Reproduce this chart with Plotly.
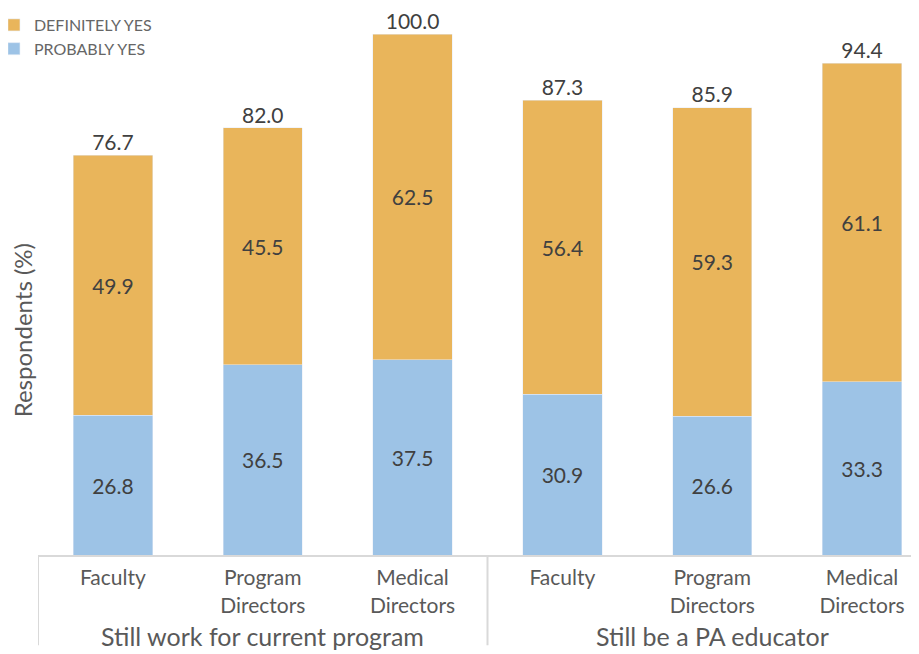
import plotly.graph_objects as go

group_names = ["Still work for current program", "Still be a PA educator"]
groups = [group_names[0]] * 3 + [group_names[1]] * 3
roles = ["Faculty", "Program<br>Directors", "Medical<br>Directors"] * 2
probably_yes = [26.8, 36.5, 37.5, 30.9, 26.6, 33.3]
definitely_yes = [49.9, 45.5, 62.5, 56.4, 59.3, 61.1]
totals = [76.7, 82.0, 100.0, 87.3, 85.9, 94.4]

FONT = "Lato"
TXT = "#404040"
AX = "#595959"
LINE = "#d9d9d9"
keys = [f"{g} | {r}" for g, r in zip(groups, roles)]

fig = go.Figure()
fig.add_trace(go.Bar(
    x=keys, y=probably_yes, name="PROBABLY YES", marker_color="#9DC3E6",
    width=0.53, texttemplate="%{y:.1f}",
    textposition="inside", insidetextanchor="middle", constraintext="none",
    textfont=dict(family=FONT, size=21, color=TXT),
))
fig.add_trace(go.Bar(
    x=keys, y=definitely_yes, name="DEFINITELY YES", marker_color="#E9B55B",
    width=0.53, texttemplate="%{y:.1f}",
    textposition="inside", insidetextanchor="middle", constraintext="none",
    textfont=dict(family=FONT, size=21, color=TXT),
))
fig.add_trace(go.Scatter(
    x=keys, y=totals, mode="text", text=[f"{t:.1f}" for t in totals],
    textposition="top center", showlegend=False, hoverinfo="skip",
    textfont=dict(family=FONT, size=21, color=TXT),
))

# group labels and dividers of the two-level category axis
for gi, g in enumerate(group_names):
    members = [i for i, gg in enumerate(groups) if gg == g]
    fig.add_annotation(
        text=g, xref="x", yref="paper", x=sum(members) / len(members),
        y=-0.148, xanchor="center", yanchor="middle", showarrow=False,
        font=dict(family=FONT, size=25, color=AX),
    )
    fig.add_shape(
        type="line", xref="x", yref="paper", x0=members[0] - 0.5,
        x1=members[0] - 0.5, y0=0, y1=-0.165,
        line=dict(color=LINE, width=2),
    )
fig.add_shape(
    type="line", xref="x", yref="paper", x0=len(keys) - 0.5,
    x1=len(keys) - 0.5, y0=0, y1=-0.165, line=dict(color=LINE, width=2),
)

fig.add_annotation(
    text="Respondents (%)", textangle=-90, xref="paper", yref="paper",
    x=-0.018, y=0.411, xanchor="center", yanchor="middle", showarrow=False,
    font=dict(family=FONT, size=24, color=AX),
)

fig.update_layout(
    width=911, height=646,
    margin=dict(l=30, r=0, t=0, b=99, autoexpand=False),
    barmode="stack",
    plot_bgcolor="white", paper_bgcolor="white",
    font=dict(family=FONT, color=AX),
    legend=dict(
        xref="paper", yref="paper", x=-0.05, y=1.0,
        xanchor="left", yanchor="top", traceorder="reversed",
        font=dict(family=FONT, size=16, color="#666666"),
        itemwidth=30, tracegroupgap=0, bgcolor="rgba(0,0,0,0)",
    ),
    xaxis=dict(
        range=[-0.5, 5.38], showline=True, linecolor=LINE, linewidth=2,
        tickvals=keys, ticktext=roles, ticklabelstandoff=3,
        tickfont=dict(family=FONT, size=21, color=AX),
        showgrid=False, ticks="",
    ),
    yaxis=dict(
        range=[0, 105.0], showticklabels=False, showgrid=False,
        zeroline=False, showline=False, ticks="",
    ),
)

fig.write_html("out.html")
